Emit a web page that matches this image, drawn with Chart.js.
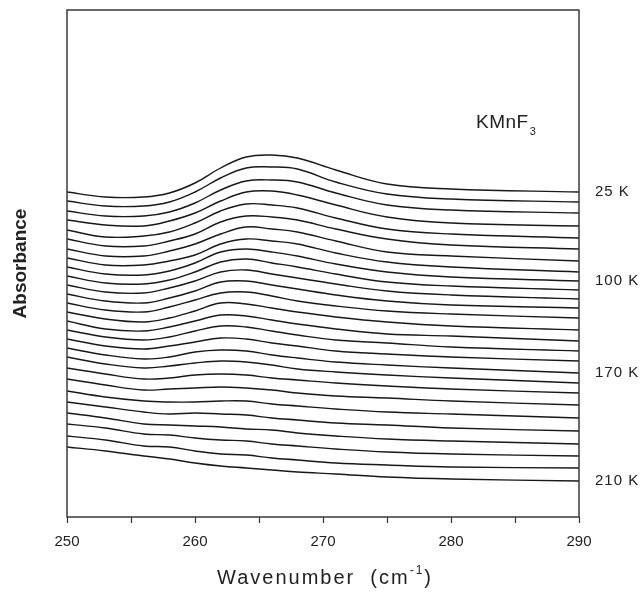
<!DOCTYPE html>
<html>
<head>
<meta charset="utf-8">
<script src="https://cdn.jsdelivr.net/npm/chart.js@4.4.0/dist/chart.umd.min.js"></script>
<style>
    html, body { margin: 0; padding: 0; background: #fff; }
    #chart { display: block; }
</style>
</head>
<body>
<canvas id="chart" width="642" height="592"></canvas>
<script>
// wavenumbers (cm-1) at which each trace was read
var wavenumbers = [250, 253, 256, 258, 260, 262, 264, 266, 268, 271, 275, 280, 290];

// absorbance (arb. units, traces offset), top trace = 25 K, bottom = 210 K
var spectra = [
    [325, 320, 320, 324, 334, 349, 360, 362, 359, 347, 333, 328, 325],
    [316, 311, 311, 315, 325, 339, 349, 350, 348, 335, 323, 318, 315],
    [306, 301, 301, 305, 314, 327, 336, 337, 335, 324, 312, 307, 304],
    [297, 292, 291, 296, 304, 316, 325, 326, 322, 312, 300, 294, 291],
    [287, 280, 281, 285, 294, 306, 313, 312, 309, 299, 288, 283, 279],
    [278, 271, 271, 276, 283, 295, 301, 300, 297, 288, 278, 272, 268],
    [268, 261, 261, 266, 273, 283, 290, 288, 285, 276, 265, 261, 256],
    [259, 252, 252, 256, 262, 273, 278, 276, 273, 264, 255, 250, 245],
    [250, 243, 242, 246, 254, 265, 268, 265, 261, 253, 245, 240, 236],
    [241, 234, 233, 237, 245, 255, 258, 254, 250, 243, 235, 231, 227],
    [232, 225, 224, 229, 236, 245, 247, 243, 239, 233, 226, 222, 218],
    [223, 216, 214, 219, 226, 235, 236, 232, 228, 222, 216, 212, 209],
    [214, 207, 205, 210, 217, 224, 225, 221, 216, 211, 206, 203, 199],
    [205, 198, 195, 199, 206, 214, 213, 209, 205, 200, 195, 191, 187],
    [196, 188, 186, 190, 196, 202, 201, 197, 193, 188, 183, 181, 176],
    [187, 180, 177, 180, 186, 191, 190, 186, 182, 177, 174, 170, 166],
    [178, 171, 168, 171, 175, 179, 178, 174, 171, 166, 163, 160, 156],
    [169, 162, 158, 160, 165, 167, 166, 162, 159, 155, 152, 149, 144],
    [160, 153, 149, 151, 154, 156, 155, 152, 148, 145, 142, 139, 134],
    [149, 143, 138, 139, 142, 143, 142, 139, 137, 134, 131, 128, 124],
    [138, 132, 127, 128, 129, 130, 129, 127, 124, 121, 119, 116, 112],
    [126, 120, 116, 115, 115, 116, 116, 113, 111, 108, 105, 103, 99],
    [115, 110, 105, 103, 104, 103, 102, 99, 97, 94, 92, 89, 86],
    [104, 99, 93, 92, 91, 90, 88, 87, 84, 81, 78, 76, 73],
    [93, 89, 83, 82, 79, 77, 76, 73, 71, 68, 65, 63, 61],
    [81, 77, 71, 70, 66, 63, 62, 59, 57, 54, 52, 50, 49],
    [70, 66, 61, 58, 54, 51, 49, 47, 45, 43, 40, 38, 36]
];

// temperature labels on the right and the trace each one belongs to
var tempLabels = ['25 K', '100 K', '170 K', '210 K'];
var tempLabelTrace = [0, 8, 17, 26];

var FONT = '"Liberation Sans", Arial, sans-serif',
    INK = '#222';

var datasets = spectra.map(function (trace) {
    return {
        data: trace.map(function (v, i) { return { x: wavenumbers[i], y: v }; }),
        borderColor: '#181818',
        borderWidth: 1.4,
        pointRadius: 0,
        fill: false,
        tension: 0.4
    };
});

var framePlugin = {
    id: 'frame',
    afterDatasetsDraw: function (chart) {
        var ctx = chart.ctx, a = chart.chartArea;
        ctx.save();
        ctx.strokeStyle = '#3a3a3a';
        ctx.lineWidth = 1.5;
        ctx.strokeRect(a.left, a.top, a.right - a.left, a.bottom - a.top);
        ctx.restore();
    }
};

var textPlugin = {
    id: 'texts',
    afterDraw: function (chart) {
        var ctx = chart.ctx, a = chart.chartArea, yScale = chart.scales.y,
            cx, base, w1, w2, w3, x0;

        ctx.save();
        ctx.fillStyle = INK;
        ctx.textAlign = 'left';

        // temperature labels next to their traces
        ctx.font = '15px ' + FONT;
        ctx.letterSpacing = '1px';
        ctx.textBaseline = 'middle';
        tempLabels.forEach(function (label, i) {
            var trace = spectra[tempLabelTrace[i]];
            ctx.fillText(label, a.right + 16, yScale.getPixelForValue(trace[trace.length - 1]));
        });

        // compound name, subscript 3
        ctx.textBaseline = 'alphabetic';
        ctx.letterSpacing = '0.5px';
        ctx.font = '19px ' + FONT;
        ctx.fillText('KMnF', a.right - 103, a.top + 118);
        w1 = ctx.measureText('KMnF').width;
        ctx.font = '11px ' + FONT;
        ctx.fillText('3', a.right - 103 + w1 + 1, a.top + 125);

        // x axis title with superscript
        cx = (a.left + a.right) / 2 + 2;
        base = a.bottom + 67;
        ctx.letterSpacing = '2px';
        ctx.font = '20px ' + FONT;
        w1 = ctx.measureText('Wavenumber  (cm').width;
        w3 = ctx.measureText(')').width;
        ctx.font = '12px ' + FONT;
        w2 = ctx.measureText('-1').width;
        x0 = cx - (w1 + w2 + w3) / 2;
        ctx.font = '20px ' + FONT;
        ctx.fillText('Wavenumber  (cm', x0, base);
        ctx.fillText(')', x0 + w1 + w2, base);
        ctx.font = '12px ' + FONT;
        ctx.fillText('-1', x0 + w1, base - 10);

        ctx.restore();
    }
};

new Chart(document.getElementById('chart'), {
    type: 'line',
    data: { datasets: datasets },
    options: {
        responsive: false,
        animation: false,
        events: [],
        layout: { padding: { top: 10, right: 63, left: 0, bottom: 0 } },
        plugins: {
            legend: { display: false },
            tooltip: { enabled: false }
        },
        scales: {
            x: {
                type: 'linear',
                min: 250,
                max: 290,
                afterFit: function (scale) { scale.height = 75; },
                border: { display: false },
                grid: {
                    drawOnChartArea: false,
                    drawTicks: true,
                    tickLength: 6,
                    tickColor: '#333',
                    tickWidth: 1.2
                },
                ticks: {
                    stepSize: 5,
                    autoSkip: false,
                    maxRotation: 0,
                    padding: 10,
                    color: INK,
                    font: { family: FONT, size: 15 },
                    callback: function (v) { return v % 10 === 0 ? v : ''; }
                }
            },
            y: {
                min: 0,
                max: 507,
                afterFit: function (scale) { scale.width = 67; },
                border: { display: false },
                grid: { display: false },
                ticks: { display: false },
                title: {
                    display: true,
                    text: 'Absorbance',
                    color: INK,
                    padding: { top: 9, bottom: 0 },
                    font: { family: FONT, size: 19, weight: 'bold' }
                }
            }
        }
    },
    plugins: [framePlugin, textPlugin]
});
</script>
</body>
</html>
